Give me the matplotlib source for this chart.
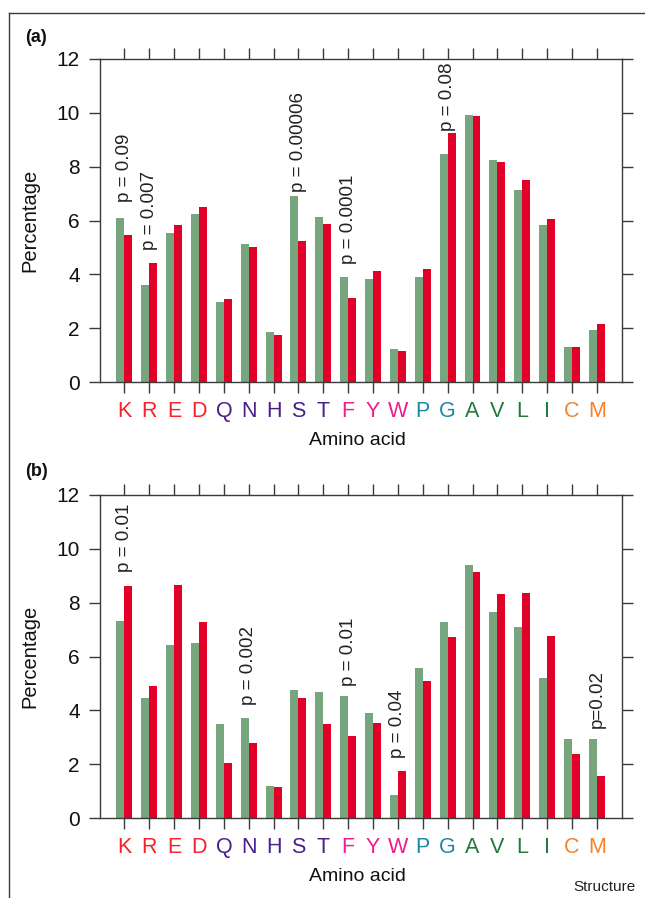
import matplotlib
matplotlib.use("Agg")
import matplotlib.pyplot as plt
from matplotlib.lines import Line2D
import numpy as np

plt.rcParams['font.family'] = ['Liberation Sans', 'DejaVu Sans']

amino_acids = ["K", "R", "E", "D", "Q", "N", "H", "S", "T", "F",
               "Y", "W", "P", "G", "A", "V", "L", "I", "C", "M"]
letter_colors = ["#f4222a", "#f4222a", "#f4222a", "#f4222a",
                 "#4a1f8c", "#4a1f8c", "#4a1f8c", "#4a1f8c", "#4a1f8c",
                 "#ee1c8c", "#ee1c8c", "#ee1c8c",
                 "#1d86a6", "#1d86a6",
                 "#1f7a3c", "#1f7a3c", "#1f7a3c", "#1f7a3c",
                 "#f5822a", "#f5822a"]

# Panel (a)
a_green = [6.08, 3.60, 5.53, 6.24, 2.97, 5.12, 1.85, 6.91, 6.13, 3.90,
           3.82, 1.22, 3.90, 8.47, 9.93, 8.25, 7.13, 5.83, 1.29, 1.92]
a_red = [5.46, 4.42, 5.83, 6.50, 3.08, 5.01, 1.74, 5.24, 5.87, 3.11,
         4.12, 1.14, 4.19, 9.26, 9.89, 8.18, 7.51, 6.05, 1.29, 2.15]
a_notes = [("K", 6.70, "p = 0.09"), ("R", 4.90, "p = 0.007"),
           ("S", 7.07, "p = 0.00006"), ("F", 4.40, "p = 0.0001"),
           ("G", 9.34, "p = 0.08")]

# Panel (b)
b_green = [7.32, 4.46, 6.43, 6.50, 3.49, 3.72, 1.19, 4.76, 4.68, 4.53,
           3.90, 0.85, 5.57, 7.28, 9.40, 7.65, 7.10, 5.20, 2.93, 2.93]
b_red = [8.62, 4.90, 8.66, 7.28, 2.04, 2.79, 1.15, 4.46, 3.49, 3.05,
         3.53, 1.75, 5.09, 6.72, 9.14, 8.32, 8.36, 6.76, 2.38, 1.56]
b_notes = [("K", 9.15, "p = 0.01"), ("N", 4.20, "p = 0.002"),
           ("F", 4.90, "p = 0.01"), ("W", 2.22, "p = 0.04"),
           ("M", 3.33, "p=0.02")]

y_ticks = [0, 2, 4, 6, 8, 10, 12]

GREEN = "#76a57e"
RED = "#e10028"
AXC = "#3a3a3a"

fig = plt.figure(figsize=(6.45, 8.98), dpi=100)
W, H = 645, 898


def make_axes(top_px):
    left = 100 / W
    width = (621.7 - 100) / W
    height = 323 / H
    bottom = 1 - (top_px + 323) / H
    return fig.add_axes([left, bottom, width, height])


def draw_panel(ax, green, red, notes):
    x = np.arange(len(amino_acids))
    bw = 0.32
    ax.bar(x - bw / 2, green, width=bw, color=GREEN, zorder=1)
    ax.bar(x + bw / 2, red, width=bw, color=RED, zorder=1)
    ax.set_xlim(-0.98, 20.0)
    ax.set_ylim(0, 12)
    ax.set_yticks(y_ticks)
    ax.set_yticklabels([str(t) for t in y_ticks], fontsize=15)
    ax.set_xticks(x)
    ax.set_xticklabels(amino_acids, fontsize=15.5)
    for tl, c in zip(ax.get_xticklabels(), letter_colors):
        tl.set_color(c)
    ax.tick_params(axis='y', which='both', direction='out', length=8,
                   width=1.0, color=AXC, left=True, right=True,
                   labelleft=True, labelright=False, pad=6.5, labelcolor='#111111')
    ax.tick_params(axis='x', which='both', direction='out', length=8,
                   width=1.0, color=AXC, top=True, bottom=True,
                   labeltop=False, labelbottom=True, pad=5.5)
    for s in ax.spines.values():
        s.set_color(AXC)
        s.set_linewidth(1.0)
        s.set_zorder(3)
    ax.set_ylabel("Percentage", fontsize=14.5, color='#111111')
    ax.yaxis.set_label_coords(-0.134, 0.5)
    ax.yaxis.label.set_va('center')
    ax.set_xlabel("Amino acid", fontsize=14, color='#111111')
    ax.xaxis.set_label_coords(0.493, -0.18)
    ax.xaxis.label.set_va('center')
    for aa, yv, txt in notes:
        ax.text(amino_acids.index(aa), yv, txt, rotation=90, ha='center',
                va='bottom', fontsize=13.5, color='#222222')


ax_a = make_axes(59)
draw_panel(ax_a, a_green, a_red, a_notes)
ax_b = make_axes(495)
draw_panel(ax_b, b_green, b_red, b_notes)

fig.text(25 / W, 1 - 37 / H, "(a)", fontsize=13, fontweight='bold',
         ha='left', va='center', color='#111111')
fig.text(25 / W, 1 - 472 / H, "(b)", fontsize=13, fontweight='bold',
         ha='left', va='center', color='#111111')
fig.text(636 / W, 1 - 887 / H, "Structure", fontsize=11, ha='right',
         va='center', color='#222222')

# outer frame lines (left and top)
fig.add_artist(Line2D([9 / W, 9 / W], [0, 1 - 13 / H], transform=fig.transFigure,
                      color=AXC, linewidth=1.0))
fig.add_artist(Line2D([9 / W, 1], [1 - 13 / H, 1 - 13 / H], transform=fig.transFigure,
                      color=AXC, linewidth=1.0))

fig.savefig("out.png", dpi=100)
